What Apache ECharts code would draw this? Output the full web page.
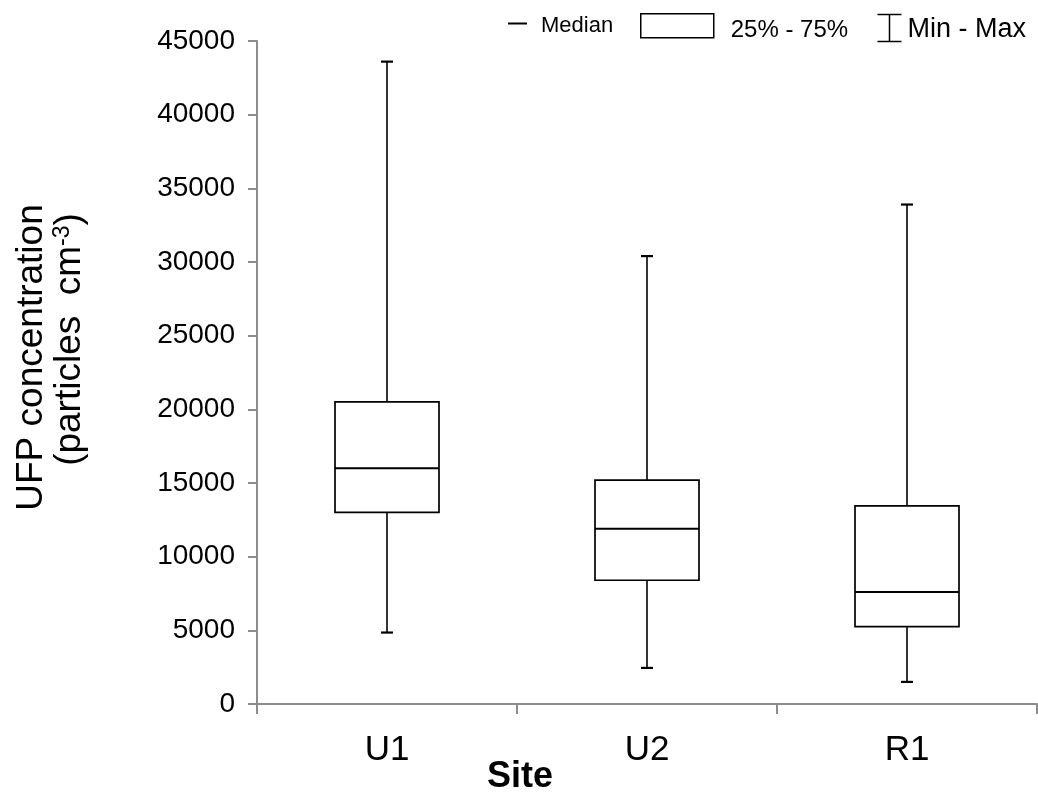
<!DOCTYPE html>
<html>
<head>
<meta charset="utf-8">
<script src="https://cdn.jsdelivr.net/npm/echarts@6/dist/echarts.min.js"></script>
<style>
html,body{margin:0;padding:0;background:#fff;}
#chart{width:1038px;height:798px;}
</style>
</head>
<body>
<div id="chart"></div>
<script>
const sites = ['U1', 'U2', 'R1'];
const minVals = [4850, 2450, 1500];
const q1Vals = [13000, 8400, 5250];
const medianVals = [16000, 11900, 7600];
const q3Vals = [20500, 15200, 13450];
const maxVals = [43600, 30400, 33900];
const yTicks = [0, 5000, 10000, 15000, 20000, 25000, 30000, 35000, 40000, 45000];

const FONT = 'Liberation Sans, Arial, sans-serif';
const boxData = sites.map((s, i) => [i, minVals[i], q1Vals[i], medianVals[i], q3Vals[i], maxVals[i]]);

const chart = echarts.init(document.getElementById('chart'), null, {renderer: 'canvas'});

const option = {
  backgroundColor: '#fff',
  animation: false,
  grid: {left: 257, right: 1, top: 41, bottom: 94, containLabel: false, outerBoundsMode: 'none'},
  legend: [
    {
      left: 508, top: 15, padding: 0, itemWidth: 19, itemHeight: 2,
      data: [{name: 'Median', icon: 'rect', itemStyle: {color: '#000', borderWidth: 0}}],
      formatter: '{t|{name}}',
      textStyle: {fontFamily: FONT, fontSize: 22, color: '#000', padding: [0, 0, 0, 9],
        rich: {t: {fontFamily: FONT, fontSize: 22, color: '#000', padding: [5, 0, 0, 0]}}},
      selectedMode: false
    },
    {
      left: 640, top: 13, padding: 0, itemWidth: 73, itemHeight: 24,
      data: [{name: '25% - 75%', icon: 'rect', itemStyle: {color: '#fff', borderColor: '#000', borderWidth: 1.5}}],
      formatter: '{t|{name}}',
      textStyle: {fontFamily: FONT, fontSize: 24, color: '#000', padding: [0, 0, 0, 12],
        rich: {t: {fontFamily: FONT, fontSize: 24, color: '#000', padding: [9, 0, 0, 0]}}},
      selectedMode: false
    },
    {
      left: 875, top: 12, padding: 0, itemWidth: 24, itemHeight: 27,
      data: [{name: 'Min - Max', icon: 'path://M0 0 L24 0 M12 0 L12 27 M0 27 L24 27',
              itemStyle: {color: 'none', borderColor: '#000', borderWidth: 1.5}}],
      formatter: '{t|{name}}',
      textStyle: {fontFamily: FONT, fontSize: 27, color: '#000', padding: [0, 0, 0, 1],
        rich: {t: {fontFamily: FONT, fontSize: 27, color: '#000', padding: [4, 0, 0, 0]}}},
      selectedMode: false
    }
  ],
  xAxis: {
    type: 'category',
    data: sites,
    boundaryGap: true,
    name: 'Site',
    nameLocation: 'middle',
    nameGap: 55,
    nameMoveOverlap: false,
    nameTextStyle: {fontFamily: FONT, fontSize: 36, fontWeight: 'bold', color: '#000', padding: [0, 254, 0, 0]},
    axisLine: {show: true, lineStyle: {color: '#8c8c8c', width: 2}},
    axisTick: {show: true, length: 10, inside: false, lineStyle: {color: '#8c8c8c', width: 2}},
    axisLabel: {fontFamily: FONT, fontSize: 35, color: '#000', margin: 29},
    splitLine: {show: false}
  },
  yAxis: {
    type: 'value',
    min: 0,
    max: 45000,
    interval: 5000,
    name: '{a|UFP concentration}\n{b|(particles  cm}{s|-3}{a|)}',
    nameLocation: 'middle',
    nameGap: 168,
    nameRotate: 90,
    nameMoveOverlap: false,
    nameTextStyle: {
      fontFamily: FONT, color: '#000', padding: [0, 0, 0, 30],
      rich: {
        a: {fontFamily: FONT, fontSize: 37, color: '#000', lineHeight: 38},
        b: {fontFamily: FONT, fontSize: 37, color: '#000', lineHeight: 38, padding: [0, 0, 0, 36]},
        s: {fontFamily: FONT, fontSize: 23, color: '#000', verticalAlign: 'top', lineHeight: 38, padding: [0, 0, 14, 0]}
      }
    },
    axisLine: {show: true, lineStyle: {color: '#8c8c8c', width: 2}},
    axisTick: {show: true, length: 9, inside: false, lineStyle: {color: '#8c8c8c', width: 2}},
    axisLabel: {fontFamily: FONT, fontSize: 28, color: '#000', margin: 22,
      formatter: v => yTicks.includes(v) ? String(v) : ''},
    splitLine: {show: false}
  },
  series: [
    {
      name: 'Min - Max',
      type: 'custom',
      data: boxData,
      encode: {x: 0, y: [1, 2, 3, 4, 5]},
      z: 2,
      renderItem: function (params, api) {
        const x = api.value(0);
        const pMin = api.coord([x, api.value(1)]);
        const pQ1 = api.coord([x, api.value(2)]);
        const pQ3 = api.coord([x, api.value(4)]);
        const pMax = api.coord([x, api.value(5)]);
        const band = api.size([1, 0])[0];
        const hw = band * 0.023;
        const st = {stroke: '#000', lineWidth: 1.6, fill: null};
        return {
          type: 'group',
          children: [
            {type: 'line', shape: {x1: pMax[0], y1: pMax[1], x2: pQ3[0], y2: pQ3[1]}, style: st},
            {type: 'line', shape: {x1: pQ1[0], y1: pQ1[1], x2: pMin[0], y2: pMin[1]}, style: st},
            {type: 'line', shape: {x1: pMax[0] - hw, y1: pMax[1], x2: pMax[0] + hw, y2: pMax[1]}, style: {stroke: '#000', lineWidth: 2.2}},
            {type: 'line', shape: {x1: pMin[0] - hw, y1: pMin[1], x2: pMin[0] + hw, y2: pMin[1]}, style: {stroke: '#000', lineWidth: 2.2}}
          ]
        };
      }
    },
    {
      name: '25% - 75%',
      type: 'custom',
      data: boxData,
      encode: {x: 0, y: [2, 4]},
      z: 3,
      renderItem: function (params, api) {
        const x = api.value(0);
        const pQ1 = api.coord([x, api.value(2)]);
        const pQ3 = api.coord([x, api.value(4)]);
        const band = api.size([1, 0])[0];
        const w = band * 0.4;
        return {
          type: 'rect',
          shape: {x: pQ3[0] - w / 2, y: pQ3[1], width: w, height: pQ1[1] - pQ3[1]},
          style: {fill: '#fff', stroke: '#000', lineWidth: 1.7}
        };
      }
    },
    {
      name: 'Median',
      type: 'custom',
      data: boxData,
      encode: {x: 0, y: 3},
      z: 4,
      renderItem: function (params, api) {
        const x = api.value(0);
        const pM = api.coord([x, api.value(3)]);
        const band = api.size([1, 0])[0];
        const w = band * 0.4;
        return {
          type: 'line',
          shape: {x1: pM[0] - w / 2, y1: pM[1], x2: pM[0] + w / 2, y2: pM[1]},
          style: {stroke: '#000', lineWidth: 2}
        };
      }
    }
  ]
};
chart.setOption(option);
</script>
</body>
</html>
